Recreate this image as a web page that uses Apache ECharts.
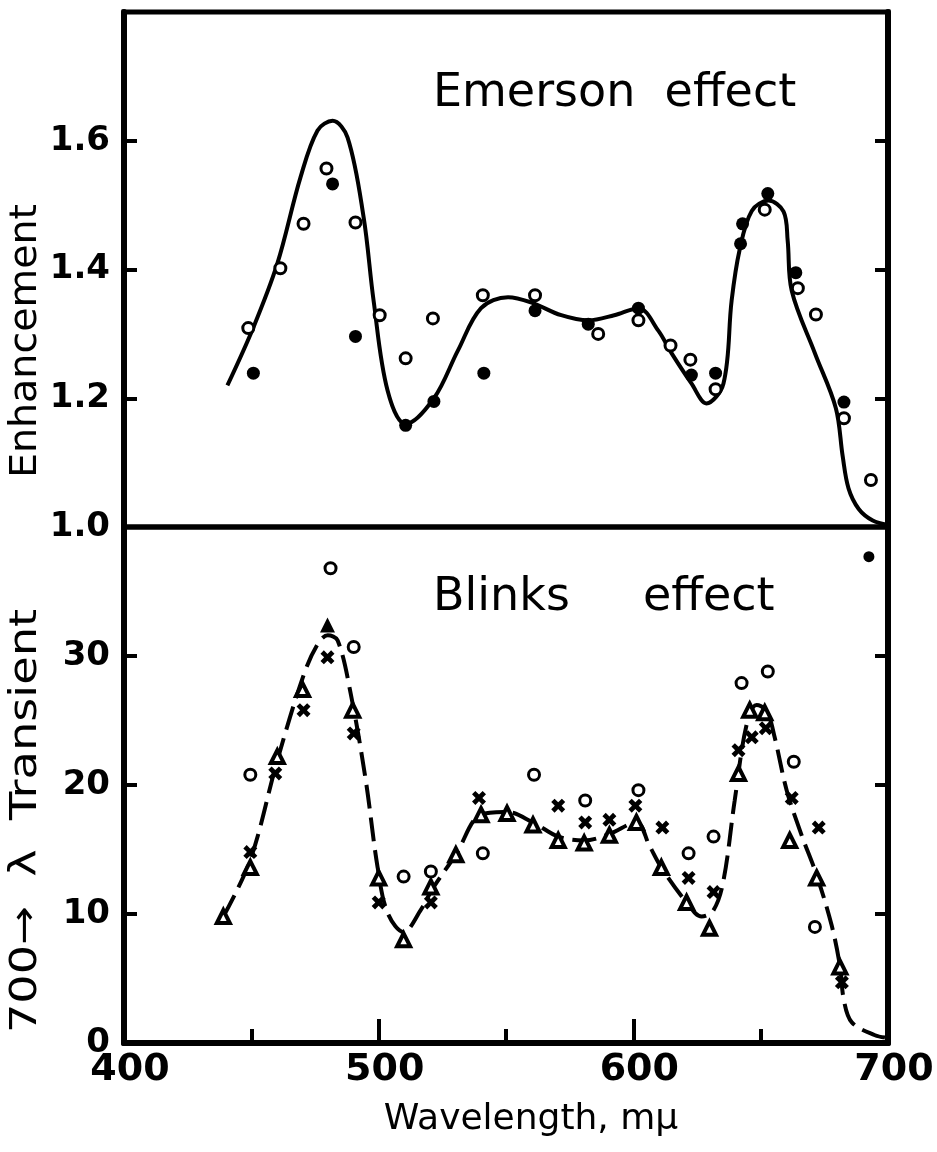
<!DOCTYPE html>
<html>
<head>
<meta charset="utf-8">
<title>Emerson and Blinks effects</title>
<script src="https://cdn.jsdelivr.net/npm/echarts/dist/echarts.min.js"></script>
<style>
    html, body { margin: 0; padding: 0; background: #fff; }
    #main { width: 937px; height: 1152px; }
</style>
</head>
<body>
<div id="main"></div>
<script>
    // [wavelength (mμ), value] pairs

    // top panel: Emerson effect (enhancement)
    var emersonOpen = [
        [448.8, 1.309], [461.4, 1.402], [470.5, 1.471], [479.5, 1.557], [490.9, 1.473],
        [500.4, 1.329], [510.6, 1.262], [521.3, 1.324], [540.9, 1.36], [561.4, 1.36],
        [586.2, 1.30], [602, 1.321], [614.6, 1.282], [622.4, 1.26], [632.3, 1.214],
        [651.6, 1.493], [664.6, 1.371], [671.7, 1.33], [682.7, 1.169], [693.3, 1.073]
    ];
    var emersonFilled = [
        [450.8, 1.239], [481.9, 1.533], [490.9, 1.296], [510.6, 1.158], [521.7, 1.195],
        [541.3, 1.239], [561.4, 1.336], [582.3, 1.315], [602, 1.34], [622.8, 1.236],
        [632.3, 1.239], [642.1, 1.44], [642.9, 1.471], [652.8, 1.518], [663.8, 1.395],
        [682.7, 1.194]
    ];
    var emersonCurve = [
        [440.6, 1.22], [450.8, 1.31], [460.2, 1.409], [469.3, 1.543], [476, 1.616],
        [481.9, 1.631], [487.8, 1.605], [494.1, 1.481], [498, 1.352], [503.5, 1.212],
        [510.6, 1.16], [521.7, 1.2], [531.1, 1.274], [540.2, 1.34], [550.8, 1.357],
        [559.8, 1.349], [571.7, 1.329], [582.3, 1.321], [592.5, 1.329], [602, 1.34],
        [609.8, 1.305], [615, 1.27], [622.8, 1.223], [628.7, 1.192], [635.4, 1.223],
        [638.6, 1.352], [641.7, 1.43], [646.5, 1.491], [653.1, 1.507], [659, 1.49],
        [660.6, 1.445], [662.2, 1.367], [671.3, 1.27], [679.5, 1.185], [682.2, 1.11],
        [684.5, 1.06], [688.5, 1.028], [694, 1.01], [700, 1.003]
    ];

    // bottom panel: Blinks effect (700 -> λ transient)
    var blinksCircle = [
        [481.1, 36.8], [490.2, 30.7], [449.6, 20.8], [509.8, 12.9], [520.5, 13.3],
        [540.9, 14.7], [561, 20.8], [581.1, 18.8], [602, 19.6], [621.7, 14.7],
        [631.5, 16.0], [642.5, 27.9], [652.8, 28.8], [663, 21.8], [671.3, 9.0]
    ];
    var blinksDot = [[692.5, 37.7]];
    var blinksTriangle = [
        [439, 9.8], [449.6, 13.6], [460.2, 22.2], [470.1, 27.4],
        [489.8, 25.8], [500, 12.8], [509.8, 8.0], [520.5, 12.1], [530.3, 14.6],
        [540.2, 17.7], [550.4, 17.8], [560.6, 16.9], [570.5, 15.7], [580.7, 15.5],
        [590.6, 16.1], [601.2, 17.1], [611, 13.6], [620.9, 10.9], [629.9, 8.9],
        [641.3, 20.9], [645.7, 25.8], [651.6, 25.6], [661.4, 15.7], [672, 12.8],
        [681.1, 5.9]
    ];
    var blinksTriangleSolid = [[479.9, 32.4]];
    var blinksCross = [
        [449.6, 14.8], [459.4, 20.9], [470.5, 25.8], [479.9, 29.9], [490.2, 24.0],
        [500, 10.9], [520.5, 10.9], [539.4, 19.0], [570.5, 18.4], [581.1, 17.1],
        [590.6, 17.3], [600.8, 18.4], [611.4, 16.7], [621.7, 12.8], [631.5, 11.7],
        [641.3, 22.7], [646.5, 23.7], [652, 24.4], [662.2, 19.0], [672.8, 16.7],
        [681.9, 4.7]
    ];
    var blinksCurve = [
        [439, 9.8], [449.6, 14.2], [460.2, 21.9], [470.5, 28.5], [476, 30.9],
        [480, 31.6], [483.9, 31.2], [489, 27.1], [494.9, 20.4], [499.6, 13.6],
        [503.5, 10.1], [509.8, 8.6], [516.5, 10.3], [521.3, 12.0], [530.3, 14.6],
        [540.2, 17.7], [550.4, 17.9], [560.6, 17.1], [570.5, 16.0], [580.7, 15.7],
        [590.6, 16.2], [601.2, 17.1], [606.3, 15.3], [611, 13.6], [620.9, 10.9],
        [626.8, 9.8], [631.5, 10.3], [635.4, 12.6], [639.8, 18.8], [644.5, 24.7],
        [648.4, 26.2], [652.4, 25.7], [655.5, 23.7], [660.2, 19.6], [666.1, 16.1],
        [672, 13.0], [677.9, 9.1], [681.1, 6.0], [682.7, 3.3], [685.8, 1.6],
        [694.9, 0.6], [699.6, 0.4]
    ];

    var xTicks = [400, 700, 100];
    var enhTicks = [1.0, 1.8, 0.2];
    var transTicks = [0, 40, 10];

    var crossPath = 'path://M0,2.4L2.4,0L5,2.6L7.6,0L10,2.4L7.4,5L10,7.6L7.6,10L5,7.4L2.4,10L0,7.6L2.6,5Z';
    var numFont = { color: '#000', fontFamily: 'DejaVu Sans', fontWeight: 'bold' };
    var nameFont = { fontFamily: 'DejaVu Sans', fill: '#000', align: 'center', verticalAlign: 'middle' };

    var myChart = echarts.init(document.getElementById('main'));

    function yAxisFor(grid, ticks, side) {
        return {
            type: 'value',
            gridIndex: grid,
            position: side,
            min: ticks[0],
            max: ticks[1],
            interval: ticks[2],
            splitLine: { show: false },
            axisLine: { show: true, lineStyle: { color: '#000', width: 6 } },
            axisTick: { show: true, inside: true, length: 13, lineStyle: { color: '#000', width: 4 } },
            axisLabel: {
                show: side === 'left',
                margin: 14,
                fontSize: 34,
                color: '#000',
                fontFamily: 'DejaVu Sans',
                fontWeight: 'bold',
                formatter: function (v) {
                    if (v >= ticks[1] - 1e-6) return '';
                    return ticks[2] < 1 ? v.toFixed(1) : String(v);
                }
            }
        };
    }

    function marker(name, x, y, data, symbol, size, fill, border) {
        return {
            name: name,
            type: 'scatter',
            xAxisIndex: x,
            yAxisIndex: y,
            data: data,
            symbol: symbol,
            symbolSize: size,
            z: 5,
            itemStyle: { color: fill, borderColor: '#000', borderWidth: border || 0, opacity: 1 }
        };
    }

    var option = {
        animation: false,
        backgroundColor: '#fff',
        title: [
            { text: 'Emerson  effect', left: 428, top: 66, textStyle: { fontSize: 46, fontWeight: 'normal', color: '#000', fontFamily: 'DejaVu Sans' } },
            { text: 'Blinks     effect', left: 428, top: 570, textStyle: { fontSize: 46, fontWeight: 'normal', color: '#000', fontFamily: 'DejaVu Sans' } }
        ],
        grid: [
            { left: 124, right: 49, top: 12, height: 515, show: true, borderColor: '#000', borderWidth: 5 },
            { left: 124, right: 49, top: 527, height: 516, show: true, borderColor: '#000', borderWidth: 5 }
        ],
        xAxis: [{
            type: 'value',
            gridIndex: 0,
            min: xTicks[0],
            max: xTicks[1],
            interval: xTicks[2],
            splitLine: { show: false },
            axisLine: { show: false },
            axisTick: { show: false },
            axisLabel: { show: false }
        }, {
            type: 'value',
            gridIndex: 1,
            min: xTicks[0],
            max: xTicks[1],
            interval: xTicks[2],
            splitLine: { show: false },
            axisLine: { show: true, lineStyle: { color: '#000', width: 6 } },
            axisTick: { show: true, inside: true, length: 24, lineStyle: { color: '#000', width: 4 } },
            minorTick: { show: true, splitNumber: 2, length: 14, lineStyle: { color: '#000', width: 4 } },
            axisLabel: Object.assign({ fontSize: 38, margin: 8, padding: [0, 0, 0, 12] }, numFont)
        }],
        yAxis: [
            yAxisFor(0, enhTicks, 'left'),
            yAxisFor(0, enhTicks, 'right'),
            yAxisFor(1, transTicks, 'left'),
            yAxisFor(1, transTicks, 'right')
        ],
        graphic: [
            { type: 'text', x: 26, y: 341, rotation: Math.PI / 2, scaleX: 1.07, style: Object.assign({ text: 'Enhancement', fontSize: 37 }, nameFont) },
            { type: 'text', x: 26, y: 821, rotation: Math.PI / 2, scaleX: 1.25, style: Object.assign({ text: '700→  λ  Transient', fontSize: 37 }, nameFont) },
            { type: 'text', x: 531, y: 1120, style: Object.assign({ text: 'Wavelength, mμ', fontSize: 36 }, nameFont) }
        ],
        series: [{
                name: 'Emerson curve',
                type: 'line',
                xAxisIndex: 0,
                yAxisIndex: 0,
                data: emersonCurve,
                smooth: 0.35,
                showSymbol: false,
                lineStyle: { color: '#000', width: 4 }
            },
            marker('Emerson open', 0, 0, emersonOpen, 'circle', 11, '#fff', 3),
            marker('Emerson filled', 0, 0, emersonFilled, 'circle', 13, '#000'),
            {
                name: 'Blinks curve',
                type: 'line',
                xAxisIndex: 1,
                yAxisIndex: 2,
                data: blinksCurve,
                smooth: 0.35,
                showSymbol: false,
                lineStyle: { color: '#000', width: 4, type: [24, 9] }
            },
            marker('Blinks circle', 1, 2, blinksCircle, 'circle', 11, '#fff', 3),
            marker('Blinks dot', 1, 2, blinksDot, 'circle', 11, '#000'),
            marker('Blinks triangle', 1, 2, blinksTriangle, 'triangle', 13, '#fff', 4),
            marker('Blinks triangle solid', 1, 2, blinksTriangleSolid, 'triangle', 15, '#000'),
            marker('Blinks cross', 1, 2, blinksCross, crossPath, 14, '#000')
        ]
    };
    myChart.setOption(option);

    window.addEventListener('resize', function () {
        myChart.resize();
    });
</script>
</body>
</html>
